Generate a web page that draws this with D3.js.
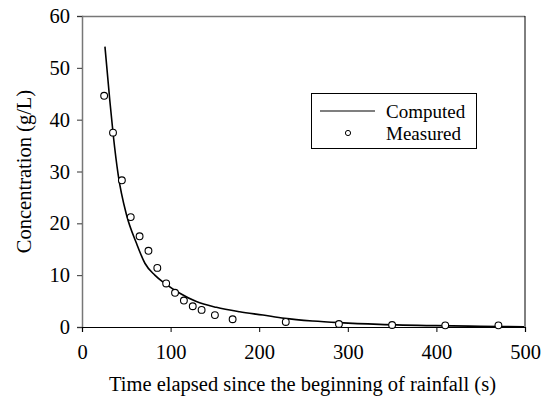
<!DOCTYPE html>
<html>
<head>
<meta charset="utf-8">
<script src="https://cdn.jsdelivr.net/npm/d3@7"></script>
<style>
  body { margin: 0; background: #fff; }
</style>
</head>
<body>
<div id="chart"></div>
<script>
// measured concentrations
const measuredTime = [25, 35, 45, 55, 65, 75, 85, 95, 105, 115, 125, 135, 150, 170, 230, 290, 350, 410, 470];
const measuredConc = [44.6, 37.5, 28.3, 21.2, 17.5, 14.7, 11.4, 8.4, 6.6, 5.1, 4.0, 3.3, 2.3, 1.5, 0.97, 0.58, 0.39, 0.32, 0.32];

// computed curve
const computedTime = [25.9, 31.5, 35.3, 40.9, 50.3, 61.6, 71, 82.2, 93.5, 110.4, 129.1, 151.7, 177.9, 204.2, 228.6, 260.5, 290.5, 335.6, 399, 450, 499];
const computedConc = [54.1, 43.5, 37.0, 29.3, 21.6, 16.1, 12.3, 10.0, 8.4, 6.5, 4.9, 3.8, 2.95, 2.3, 1.67, 1.16, 0.84, 0.51, 0.26, 0.15, 0.06];

const xTicks = [0, 100, 200, 300, 400, 500];
const yTicks = [0, 10, 20, 30, 40, 50, 60];
const seriesNames = ["Computed", "Measured"];

const FONT = '"Liberation Serif"';
const W = 551, H = 396;
const margin = { top: 16, right: 26, bottom: 69, left: 82 };
const width = W - margin.left - margin.right;
const height = H - margin.top - margin.bottom;

const svg = d3.select("#chart").append("svg")
  .attr("width", W).attr("height", H);

const g = svg.append("g").attr("transform", `translate(${margin.left},${margin.top})`);

const x = d3.scaleLinear().domain([0, 500]).range([0, width]);
const y = d3.scaleLinear().domain([0, 60]).range([height, 0]);

// frame: top + left grey, right + bottom black
g.append("line").attr("x1", 0).attr("x2", width).attr("y1", 0.5).attr("y2", 0.5)
  .attr("stroke", "#777").attr("stroke-width", 1.3);
g.append("line").attr("x1", width).attr("x2", width).attr("y1", 0).attr("y2", height)
  .attr("stroke", "#000").attr("stroke-width", 1);

// Y axis
g.append("g")
  .call(d3.axisLeft(y).tickValues(yTicks).tickSize(5).tickPadding(7).tickFormat(d3.format("d")))
  .call(a => a.select(".domain").attr("stroke", "#777").attr("stroke-width", 1.5))
  .call(a => a.selectAll(".tick line").attr("stroke", "#333"))
  .call(a => a.selectAll("text").style("font-family", FONT).style("font-size", "20.5px").attr("fill", "#000"));

// X axis
g.append("g")
  .attr("transform", `translate(0,${height})`)
  .call(d3.axisBottom(x).tickValues(xTicks).tickSize(5).tickPadding(12).tickFormat(d3.format("d")))
  .call(a => a.select(".domain").attr("stroke", "#000").attr("stroke-width", 1.2))
  .call(a => a.selectAll("text").style("font-family", FONT).style("font-size", "20.5px").attr("fill", "#000"));

// computed curve
const computed = computedTime.map((t, i) => [t, computedConc[i]]);
g.append("path")
  .datum(computed)
  .attr("fill", "none")
  .attr("stroke", "#000")
  .attr("stroke-width", 1.6)
  .attr("d", d3.line().x(d => x(d[0])).y(d => y(d[1])).curve(d3.curveMonotoneX));

// measured points
const measured = measuredTime.map((t, i) => [t, measuredConc[i]]);
g.selectAll(".pt")
  .data(measured)
  .enter().append("circle")
  .attr("class", "pt")
  .attr("cx", d => x(d[0]))
  .attr("cy", d => y(d[1]))
  .attr("r", 3.4)
  .attr("fill", "#fff")
  .attr("stroke", "#000")
  .attr("stroke-width", 1.1);

// axis titles
svg.append("text")
  .attr("x", margin.left + width / 2 - 1).attr("y", 391)
  .attr("text-anchor", "middle")
  .style("font-family", FONT).style("font-size", "20.5px")
  .text("Time elapsed since the beginning of rainfall (s)");

svg.append("text")
  .attr("transform", `translate(31,${margin.top + height / 2}) rotate(-90)`)
  .attr("text-anchor", "middle")
  .style("font-family", FONT).style("font-size", "20.5px")
  .text("Concentration (g/L)");

// legend
const leg = svg.append("g").attr("transform", "translate(311,93)");
leg.append("rect").attr("x", 0.5).attr("y", 0.5).attr("width", 165).attr("height", 55)
  .attr("fill", "#fff").attr("stroke", "#000").attr("stroke-width", 1);
leg.append("line").attr("x1", 9).attr("x2", 64).attr("y1", 18).attr("y2", 18)
  .attr("stroke", "#000").attr("stroke-width", 1.2);
leg.append("circle").attr("cx", 37).attr("cy", 40).attr("r", 2.6)
  .attr("fill", "#fff").attr("stroke", "#000").attr("stroke-width", 1);
leg.selectAll(".lt")
  .data(seriesNames)
  .enter().append("text")
  .attr("class", "lt")
  .attr("x", 75).attr("y", (d, i) => 18 + i * 22)
  .attr("dy", "0.35em")
  .style("font-family", FONT).style("font-size", "19px")
  .text(d => d);
</script>
</body>
</html>
